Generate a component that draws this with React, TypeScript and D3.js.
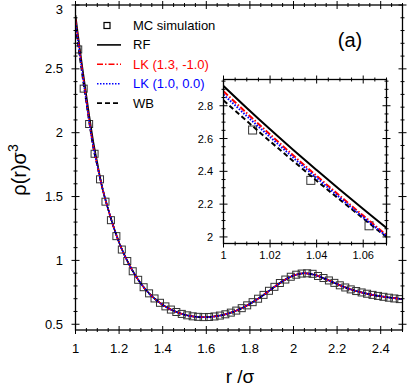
import { useEffect, useRef } from 'react'
import * as d3 from 'd3'

// MC simulation points
const mcR = [
  1.0125, 1.0375, 1.0625, 1.0875, 1.1125, 1.1375, 1.1625, 1.1875, 1.2125, 1.2375,
  1.2625, 1.2875, 1.3125, 1.3375, 1.3625, 1.3875, 1.4125, 1.4375, 1.4625, 1.4875,
  1.5125, 1.5375, 1.5625, 1.5875, 1.6125, 1.6375, 1.6625, 1.6875, 1.7125, 1.7375,
  1.7625, 1.7875, 1.8125, 1.8375, 1.8625, 1.8875, 1.9125, 1.9375, 1.9625, 1.9875,
  2.0125, 2.0375, 2.0625, 2.0875, 2.1125, 2.1375, 2.1625, 2.1875, 2.2125, 2.2375,
  2.2625, 2.2875, 2.3125, 2.3375, 2.3625, 2.3875, 2.4125, 2.4375, 2.4625, 2.4875,
]
const mcRho = [
  2.652, 2.345, 2.068, 1.835, 1.635, 1.46, 1.315, 1.19, 1.085, 0.995,
  0.915, 0.848, 0.79, 0.742, 0.702, 0.668, 0.64, 0.615, 0.596, 0.581,
  0.57, 0.562, 0.558, 0.556, 0.557, 0.561, 0.568, 0.578, 0.591, 0.607,
  0.626, 0.648, 0.673, 0.7, 0.73, 0.762, 0.793, 0.823, 0.85, 0.872,
  0.888, 0.897, 0.899, 0.895, 0.878, 0.862, 0.843, 0.824, 0.805, 0.788,
  0.773, 0.76, 0.749, 0.739, 0.73, 0.722, 0.715, 0.708, 0.702, 0.697,
]

// theory curves
const curveR = [
  1, 1.01, 1.02, 1.03, 1.04, 1.05, 1.06, 1.07, 1.08, 1.1,
  1.12, 1.15, 1.2, 1.25, 1.3, 1.35, 1.4, 1.45, 1.5, 1.55,
  1.6, 1.65, 1.7, 1.75, 1.8, 1.85, 1.9, 1.95, 2.0, 2.05,
  2.1, 2.15, 2.2, 2.25, 2.3, 2.35, 2.4, 2.45, 2.5,
]
const tailRho = [
  1.59, 1.4, 1.14, 0.955, 0.818, 0.72, 0.652, 0.605, 0.575, 0.559,
  0.555, 0.564, 0.584, 0.616, 0.66, 0.714, 0.777, 0.837, 0.881, 0.899,
  0.885, 0.852, 0.815, 0.78, 0.754, 0.734, 0.719, 0.707, 0.697,
]
const rfRho = [2.92, 2.786, 2.656, 2.53, 2.408, 2.288, 2.17, 2.055, 1.945, 1.765, ...tailRho]
const lk13Rho = [2.888, 2.755, 2.625, 2.497, 2.372, 2.25, 2.13, 2.012, 1.91, 1.745, ...tailRho]
const lk10Rho = [2.868, 2.737, 2.609, 2.483, 2.36, 2.239, 2.12, 2.005, 1.905, 1.742, ...tailRho]
const wbRho = [2.833, 2.707, 2.583, 2.462, 2.343, 2.227, 2.113, 2.0, 1.895, 1.74, ...tailRho]

const legendLabels = ['MC simulation', 'RF', 'LK (1.3, -1.0)', 'LK (1.0, 0.0)', 'WB']

const xTicks = [1, 1.2, 1.4, 1.6, 1.8, 2, 2.2, 2.4]
const yTicks = [0.5, 1, 1.5, 2, 2.5, 3]
const insetXTicks = [1, 1.02, 1.04, 1.06]
const insetYTicks = [2, 2.2, 2.4, 2.6, 2.8]

const FONT = 'Liberation Sans, Arial, Helvetica, sans-serif'

const seriesStyle = [
  { values: rfRho, color: '#000', dash: null },
  { values: wbRho, color: '#000', dash: '5,3' },
  { values: lk13Rho, color: '#ff0000', dash: '6,2,1.5,2' },
  { values: lk10Rho, color: '#0000ff', dash: '1.5,1.5' },
]

export default function App() {
  const ref = useRef<SVGSVGElement | null>(null)

  useEffect(() => {
    const svg = d3.select(ref.current)
    svg.selectAll('*').remove()

    const x = d3.scaleLinear().domain([1, 2.5]).range([75.5, 402.5])
    const y = d3.scaleLinear().domain([0.455, 3]).range([330, 5])

    const ix = d3.scaleLinear().domain([1, 1.07]).range([223.5, 386.5])
    const iy = d3.scaleLinear().domain([1.96, 2.96]).range([243.5, 79.5])

    const defs = svg.append('defs')
    defs.append('clipPath').attr('id', 'clipMain')
      .append('rect').attr('x', x(1)).attr('y', y(3))
      .attr('width', x(2.5) - x(1)).attr('height', y(0.455) - y(3))
    defs.append('clipPath').attr('id', 'clipInset')
      .append('rect').attr('x', ix(1)).attr('y', iy(2.96))
      .attr('width', ix(1.07) - ix(1)).attr('height', iy(1.96) - iy(2.96))

    // draws a frame with crossing ticks on all four sides
    const frame = (
      g: any, sx: any, sy: any, xMaj: number[], xMin: number[], yMaj: number[], yMin: number[],
      major: number, minor: number
    ) => {
      const [x0, x1] = sx.range()
      const [y0, y1] = sy.range()
      g.append('rect').attr('x', x0).attr('y', y1).attr('width', x1 - x0).attr('height', y0 - y1)
        .attr('fill', 'none').attr('stroke', '#000').attr('stroke-width', 1.3)
      const tk = (vals: number[], len: number) => {
        vals.forEach(v => {
          const px = sx(v)
          ;[y0, y1].forEach(yy => {
            g.append('line').attr('x1', px).attr('x2', px).attr('y1', yy - len).attr('y2', yy + len)
              .attr('stroke', '#000').attr('stroke-width', 1)
          })
        })
      }
      const tky = (vals: number[], len: number) => {
        vals.forEach(v => {
          const py = sy(v)
          ;[x0, x1].forEach(xx => {
            g.append('line').attr('y1', py).attr('y2', py).attr('x1', xx - len).attr('x2', xx + len)
              .attr('stroke', '#000').attr('stroke-width', 1)
          })
        })
      }
      tk(xMaj, major); tk(xMin, minor)
      tky(yMaj, major); tky(yMin, minor)
    }

    const main = svg.append('g')

    const line = (sx: any, sy: any) => d3.line<number>()
      .x((_, i) => sx(curveR[i]))
      .y(d => sy(d))
      .curve(d3.curveMonotoneX)

    const drawSquares = (g: any, sx: any, sy: any, size: number, clip: string) => {
      g.append('g').attr('clip-path', `url(#${clip})`)
        .selectAll('rect')
        .data(mcRho)
        .enter().append('rect')
        .attr('x', (_: number, i: number) => sx(mcR[i]) - size / 2)
        .attr('y', (d: number) => sy(d) - size / 2)
        .attr('width', size).attr('height', size)
        .attr('fill', 'none')
        .attr('stroke', '#333')
        .attr('stroke-width', 1)
    }

    drawSquares(main, x, y, 7, 'clipMain')

    const mainCurves = main.append('g').attr('clip-path', 'url(#clipMain)')
    seriesStyle.forEach(s => {
      mainCurves.append('path')
        .attr('d', line(x, y)(s.values))
        .attr('fill', 'none')
        .attr('stroke', s.color)
        .attr('stroke-width', 1.6)
        .attr('stroke-dasharray', s.dash)
    })

    const xMinor = d3.range(1, 2.5001, 0.05).filter(v => Math.abs(v * 5 - Math.round(v * 5)) > 1e-6)
    const yMinor = d3.range(0.5, 3.0001, 0.1).filter(v => Math.abs(v * 2 - Math.round(v * 2)) > 1e-6)
    frame(main, x, y, xTicks, xMinor, yTicks, yMinor, 4, 2)

    main.selectAll('.xl').data(xTicks).enter().append('text')
      .attr('x', d => x(d)).attr('y', 353)
      .attr('text-anchor', 'middle')
      .attr('font-family', FONT).attr('font-size', 13)
      .text(d => String(d))
    main.selectAll('.yl').data(yTicks).enter().append('text')
      .attr('x', 63).attr('y', d => Math.max(y(d) + 4.5, 14))
      .attr('text-anchor', 'end')
      .attr('font-family', FONT).attr('font-size', 13)
      .text(d => String(d))

    // axis titles
    main.append('text')
      .attr('x', 240).attr('y', 383)
      .attr('text-anchor', 'middle')
      .attr('font-family', FONT).attr('font-size', 19)
      .text('r /σ')
    const yt = main.append('text')
      .attr('transform', 'translate(26,170) rotate(-90)')
      .attr('text-anchor', 'middle')
      .attr('font-family', FONT).attr('font-size', 20)
    yt.append('tspan').text('ρ(r)σ')
    yt.append('tspan').attr('font-size', 14).attr('dy', -8).text('3')

    main.append('text')
      .attr('x', 350).attr('y', 47)
      .attr('text-anchor', 'middle')
      .attr('font-family', FONT).attr('font-size', 20)
      .text('(a)')

    // legend
    const lg = main.append('g')
    const rowY = (i: number) => 25.5 + i * 19.4
    lg.append('rect').attr('x', 104).attr('y', rowY(0) - 3).attr('width', 6).attr('height', 6)
      .attr('fill', 'none').attr('stroke', '#000').attr('stroke-width', 1.2)
    const legendStyle = [null, seriesStyle[0], seriesStyle[2], seriesStyle[3], seriesStyle[1]]
    legendLabels.forEach((lab, i) => {
      const st = legendStyle[i]
      if (st) {
        lg.append('line').attr('x1', 97).attr('x2', 121).attr('y1', rowY(i)).attr('y2', rowY(i))
          .attr('stroke', st.color).attr('stroke-width', 1.6).attr('stroke-dasharray', st.dash)
      }
      lg.append('text')
        .attr('x', 133).attr('y', rowY(i) + 4.5)
        .attr('font-family', FONT).attr('font-size', 13)
        .attr('fill', st && st.color !== '#000' ? st.color : '#000')
        .text(lab)
    })

    // inset
    const inset = svg.append('g')
    inset.append('rect').attr('x', ix(1)).attr('y', iy(2.96))
      .attr('width', ix(1.07) - ix(1)).attr('height', iy(1.96) - iy(2.96)).attr('fill', '#fff')
    drawSquares(inset, ix, iy, 8, 'clipInset')
    const insetCurves = inset.append('g').attr('clip-path', 'url(#clipInset)')
    seriesStyle.forEach(s => {
      insetCurves.append('path')
        .attr('d', line(ix, iy)(s.values.slice(0, 10)))
        .attr('fill', 'none')
        .attr('stroke', s.color)
        .attr('stroke-width', 2)
        .attr('stroke-dasharray', s.dash)
    })
    const ixMinor = d3.range(1, 1.0701, 0.005).filter(v => Math.abs(v * 50 - Math.round(v * 50)) > 1e-6)
    const iyMinor = d3.range(1.95, 2.9601, 0.05).filter(v => Math.abs(v * 5 - Math.round(v * 5)) > 1e-6 && v > 1.96)
    frame(inset, ix, iy, insetXTicks, ixMinor, insetYTicks, iyMinor, 4, 2)
    inset.selectAll('.ixl').data(insetXTicks).enter().append('text')
      .attr('x', d => ix(d)).attr('y', 259)
      .attr('text-anchor', 'middle')
      .attr('font-family', FONT).attr('font-size', 11)
      .text(d => String(d))
    inset.selectAll('.iyl').data(insetYTicks).enter().append('text')
      .attr('x', 213).attr('y', d => iy(d) + 4)
      .attr('text-anchor', 'end')
      .attr('font-family', FONT).attr('font-size', 11)
      .text(d => String(d))
  }, [])

  return (
    <svg ref={ref} width={407} height={388}
      style={{ position: 'absolute', left: 0, top: 0, background: '#fff' }} />
  )
}
